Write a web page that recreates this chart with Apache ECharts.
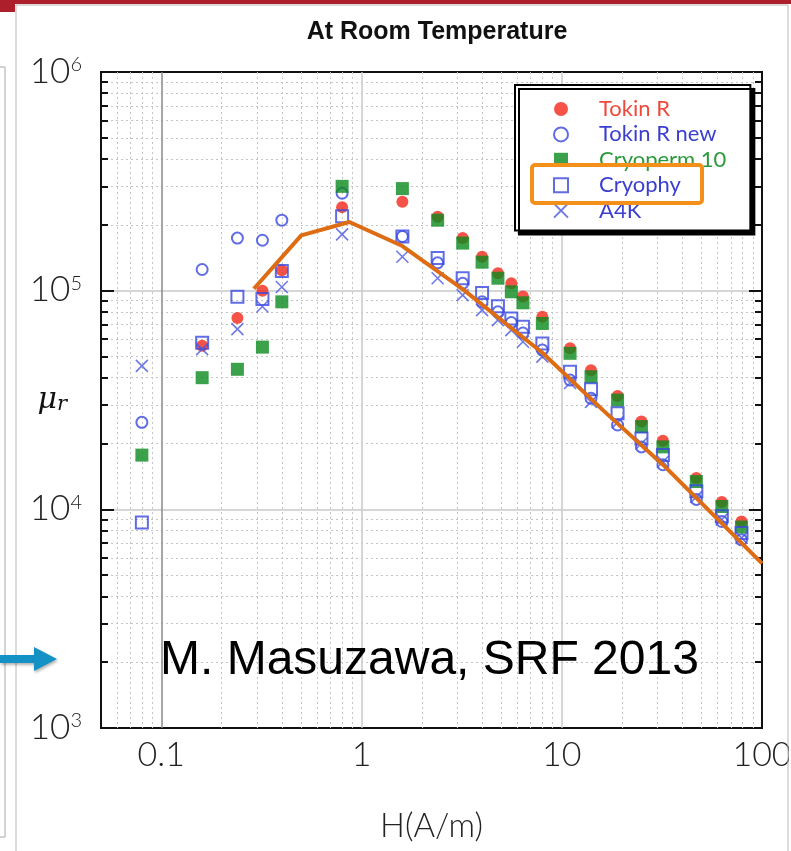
<!DOCTYPE html>
<html>
<head>
<meta charset="utf-8">
<script src="https://cdn.jsdelivr.net/npm/echarts@6/dist/echarts.min.js"></script>
<style>
html,body{margin:0;padding:0;background:#fff;}
#chart{width:791px;height:851px;}
</style>
</head>
<body>
<div id="chart"></div>
<script>
// ---- Data ----
const H = [0.08, 0.16, 0.24, 0.32, 0.4, 0.8, 1.6, 2.4, 3.2, 4, 4.8, 5.6, 6.4, 8, 11, 14, 19, 25, 32, 47, 63, 79];
const tokinR     = [null, 56000, 75000, 100000, 124000, 241000, 255000, 218000, 174000, 143000, 120000, 108000, 94000, 76000, 54500, 43300, 33000, 25200, 20600, 13900, 10800, 8800];
const tokinRnew  = [25000, 125000, 174000, 170000, 210000, 279000, 177000, 134000, 108000, 89000, 80000, 71500, 64000, 53500, 39000, 32200, 24300, 19300, 16000, 11100, 8800, 7250];
const cryoperm10 = [17700, 40000, 43700, 55200, 88900, 300000, 293000, 210000, 165000, 135000, 114000, 98800, 88000, 70800, 51700, 40400, 31600, 23900, 19300, 13400, 10300, 8300];
const cryophy    = [8700, 57800, 93700, 91500, 123000, 219000, 177000, 141000, 114000, 97500, 84900, 74600, 68400, 57400, 42600, 35400, 27500, 21100, 17700, 12100, 9300, 7800];
const a4k        = [45300, 54000, 66700, 84600, 104000, 181000, 143000, 114000, 95400, 81500, 73300, 66000, 58400, 49900, 37800, 31000, 25000, 20000, 16500, 11400, 9000, 7400];

const trendH  = [0.29, 0.5, 0.87, 1.6, 3.2, 8, 16, 32, 100];
const trendMu = [102000, 179000, 206000, 160000, 101600, 52000, 28500, 16000, 5660];

const xLabelValues = [0.1, 1, 10, 100];
const xMajorGrid = [0.1, 1, 10];
const xMinorGrid = [0.06, 0.07, 0.08, 0.09, 0.2, 0.3, 0.4, 0.5, 0.6, 0.7, 0.8, 0.9, 2, 3, 4, 5, 6, 7, 8, 9, 20, 30, 40, 50, 60, 70, 80, 90];
const yLabelValues = [1000, 10000, 100000, 1000000];
const yMajorGrid = [10000, 100000];
const yMinorGrid = [2000, 3000, 4000, 5000, 6000, 7000, 8000, 9000, 20000, 30000, 40000, 50000, 60000, 70000, 80000, 90000, 200000, 300000, 400000, 500000, 600000, 700000, 800000, 900000];

const seriesNames = ['Tokin R', 'Tokin R new', 'Cryoperm 10', 'Cryophy', 'A4K'];
const legendTextColors = ['#ee4a3c', '#3a3fd0', '#2a9a3a', '#3a3fd0', '#3a3fd0'];

function pairs(xs, ys) {
  const out = [];
  for (let i = 0; i < xs.length; i++) if (ys[i] != null) out.push([xs[i], ys[i]]);
  return out;
}

const tickFont = 'Lato, "Noto Sans", sans-serif';
const RED = '#f4281a', BLUE = '#3848e0', GREEN = '#0b8a1e';
const XPATH = 'path://M0,0L10,10M10,0L0,10';

const chart = echarts.init(document.getElementById('chart'));
const logX = {type: 'log', logBase: 10, min: 0.05, max: 100};
const logY = {type: 'log', logBase: 10, min: 1000, max: 1000000};

const option = {
  animation: false,
  backgroundColor: '#fff',
  title: {
    text: 'At Room Temperature',
    left: 432, textAlign: 'center', top: 15,
    textStyle: {fontFamily: '"Liberation Sans", Arial, sans-serif', fontWeight: 'bold', fontSize: 25, color: '#111'}
  },
  grid: {left: 101, right: 29, top: 72, bottom: 123, outerBoundsMode: 'none', containLabel: false,
         show: true, borderColor: '#111', borderWidth: 2, backgroundColor: 'transparent'},
  legend: {
    orient: 'vertical', left: 515, top: 85,
    itemWidth: 14, itemHeight: 14, itemGap: 3.4,
    padding: [13, 24, 9, 38],
    backgroundColor: '#fff', borderColor: '#000', borderWidth: 2,
    shadowColor: '#000', shadowOffsetX: 4, shadowOffsetY: 4, shadowBlur: 0,
    selectedMode: false,
    textStyle: {fontFamily: tickFont, fontSize: 22, width: 140, padding: [0, 0, 0, 26]},
    data: seriesNames.map((n, i) => ({name: n, textStyle: {color: legendTextColors[i]}}))
  },
  xAxis: [
    Object.assign({}, logX, {
      position: 'bottom',
      axisLine: {show: false, onZero: false},
      axisTick: {show: false, customValues: xMajorGrid},
      splitLine: {show: true, lineStyle: {color: ['#8a8a8a', '#c8c8c8', '#c8c8c8'], width: 1.5}},
      axisLabel: {customValues: xLabelValues, formatter: v => String(+(+v).toPrecision(3)), fontFamily: tickFont, fontWeight: 300, fontSize: 34, color: '#222', margin: 10},
      name: 'H(A/m)', nameLocation: 'middle', nameGap: 82, nameMoveOverlap: false,
      nameTextStyle: {fontFamily: tickFont, fontWeight: 300, fontSize: 33, color: '#222'}
    }),
    Object.assign({}, logX, {
      position: 'bottom',
      axisLine: {show: false, onZero: false},
      axisTick: {show: false, customValues: xMinorGrid},
      axisLabel: {show: false},
      splitLine: {show: true, lineStyle: {color: '#c4c4c4', width: 1, type: [2, 3]}}
    })
  ],
  yAxis: [
    Object.assign({}, logY, {
      position: 'left',
      axisLine: {show: false, onZero: false},
      axisTick: {show: true, inside: true, length: 7, customValues: yMinorGrid, lineStyle: {color: '#111', width: 2}},
      splitLine: {show: false},
      axisLabel: {
        customValues: yLabelValues, margin: 19,
        formatter: v => '{a|10}{b|' + Math.round(Math.log10(v)) + '}',
        rich: {
          a: {fontFamily: tickFont, fontWeight: 300, fontSize: 35, color: '#222', lineHeight: 34, verticalAlign: 'bottom'},
          b: {fontFamily: tickFont, fontWeight: 300, fontSize: 20, color: '#222', lineHeight: 20, verticalAlign: 'top'}
        }
      },
      name: '{m|μ}{r|r}', nameLocation: 'middle', nameRotate: 0, nameGap: 34, nameMoveOverlap: false,
      nameTextStyle: {
        rich: {
          m: {fontFamily: '"DejaVu Serif", serif', fontStyle: 'italic', fontSize: 30, color: '#111', lineHeight: 30, verticalAlign: 'bottom'},
          r: {fontFamily: '"DejaVu Serif", serif', fontStyle: 'italic', fontSize: 21, color: '#111', lineHeight: 30, verticalAlign: 'bottom'}
        }
      }
    }),
    Object.assign({}, logY, {
      position: 'left',
      axisLine: {show: false, onZero: false},
      axisTick: {show: true, inside: true, length: 13, customValues: yMajorGrid, lineStyle: {color: '#111', width: 2}},
      axisLabel: {show: false},
      splitLine: {show: true, lineStyle: {color: '#c8c8c8', width: 1.5}}
    }),
    Object.assign({}, logY, {
      position: 'right',
      axisLine: {show: false, onZero: false},
      axisTick: {show: true, inside: true, length: 7, customValues: yMinorGrid, lineStyle: {color: '#111', width: 2}},
      axisLabel: {show: false},
      splitLine: {show: true, lineStyle: {color: '#c4c4c4', width: 1, type: [2, 3]}}
    }),
    Object.assign({}, logY, {
      position: 'right',
      axisLine: {show: false, onZero: false},
      axisTick: {show: true, inside: true, length: 13, customValues: yMajorGrid, lineStyle: {color: '#111', width: 2}},
      axisLabel: {show: false},
      splitLine: {show: false}
    })
  ],
  series: [
    {name: 'Tokin R', type: 'scatter', symbol: 'circle', symbolSize: 12, data: pairs(H, tokinR),
     itemStyle: {color: RED}, z: 3},
    {name: 'Tokin R new', type: 'scatter', symbol: 'circle', symbolSize: 11, data: pairs(H, tokinRnew),
     itemStyle: {color: 'rgba(0,0,0,0)', borderColor: BLUE, borderWidth: 2}, z: 3},
    {name: 'Cryoperm 10', type: 'scatter', symbol: 'rect', symbolSize: 13, data: pairs(H, cryoperm10),
     itemStyle: {color: GREEN}, z: 3},
    {name: 'Cryophy', type: 'scatter', symbol: 'rect', symbolSize: 12, data: pairs(H, cryophy),
     itemStyle: {color: 'rgba(0,0,0,0)', borderColor: BLUE, borderWidth: 2}, z: 3},
    {name: 'A4K', type: 'scatter', symbol: XPATH, symbolSize: 12, data: pairs(H, a4k),
     itemStyle: {color: 'rgba(0,0,0,0)', borderColor: '#4a58e0', borderWidth: 1.6}, z: 3},
    {name: 'trend', type: 'line', data: pairs(trendH, trendMu), showSymbol: false, symbol: 'none',
     lineStyle: {color: '#dd6c12', width: 4}, z: 5, silent: true}
  ],
  graphic: [
    {type: 'rect', shape: {x: 0, y: 0, width: 791, height: 4}, style: {fill: '#ad1f2b'}, z: 50},
    {type: 'rect', shape: {x: 0, y: 0, width: 15, height: 12}, style: {fill: '#ad1f2b'}, z: 50},
    {type: 'rect', shape: {x: 16, y: 5, width: 772, height: 870}, style: {fill: 'none', stroke: '#b8b8b8', lineWidth: 1}, z: 50},
    {type: 'rect', shape: {x: -10, y: 67, width: 15, height: 770}, style: {fill: 'none', stroke: '#a8a8a8', lineWidth: 1}, z: 50},
    {type: 'rect', shape: {x: 789, y: 5, width: 5, height: 860}, style: {fill: '#fff'}, z: 49},
    {type: 'rect', shape: {x: 0, y: 655, width: 36, height: 8}, style: {fill: '#1592c5', shadowBlur: 3, shadowColor: 'rgba(0,0,0,0.3)', shadowOffsetX: 1, shadowOffsetY: 2}, z: 50},
    {type: 'polygon', shape: {points: [[34, 647], [57, 659], [34, 671]]}, style: {fill: '#1592c5', shadowBlur: 3, shadowColor: 'rgba(0,0,0,0.3)', shadowOffsetX: 1, shadowOffsetY: 2}, z: 50},
    {type: 'text', x: 160, y: 661, style: {text: 'M. Masuzawa, SRF 2013', fontFamily: '"Liberation Sans", Arial, sans-serif', fontSize: 48, fill: '#000', textAlign: 'left', textVerticalAlign: 'middle'}, z: 50},
    {type: 'rect', shape: {x: 532, y: 165, width: 170, height: 38, r: 3}, style: {fill: 'none', stroke: '#f39019', lineWidth: 4}, z: 60}
  ]
};
chart.setOption(option);
</script>
</body>
</html>
